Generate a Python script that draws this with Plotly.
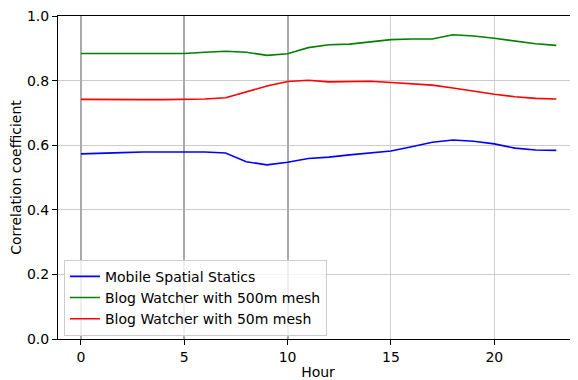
import plotly.graph_objects as go

hours = list(range(24))
mobile_spatial = [0.573, 0.576, 0.577, 0.579, 0.579, 0.580, 0.579, 0.576, 0.549, 0.539,
                  0.547, 0.559, 0.563, 0.570, 0.575, 0.582, 0.595, 0.609, 0.616, 0.612,
                  0.604, 0.591, 0.585, 0.584]
bw_500m = [0.884, 0.884, 0.884, 0.884, 0.883, 0.884, 0.888, 0.891, 0.888, 0.878,
           0.883, 0.902, 0.911, 0.913, 0.920, 0.927, 0.929, 0.929, 0.942, 0.938,
           0.931, 0.922, 0.914, 0.909]
bw_50m = [0.742, 0.741, 0.741, 0.741, 0.741, 0.741, 0.743, 0.747, 0.766, 0.783,
          0.797, 0.801, 0.796, 0.796, 0.798, 0.794, 0.789, 0.786, 0.777, 0.767,
          0.758, 0.750, 0.745, 0.743]
series_names = ["Mobile Spatial Statics", "Blog Watcher with 500m mesh", "Blog Watcher with 50m mesh"]
colors = ["#0000ff", "#008000", "#ff0000"]
x_ticks = [0, 5, 10, 15, 20]
y_ticks = [0.0, 0.2, 0.4, 0.6, 0.8, 1.0]

font = dict(family="DejaVu Sans", size=14, color="#000000")

fig = go.Figure()
for name, vals, c in zip(series_names, [mobile_spatial, bw_500m, bw_50m], colors):
    fig.add_trace(go.Scatter(x=hours, y=vals, mode="lines", name=name,
                             line=dict(color=c, width=1.6)))
# helper trace for darker grid lines on overlay axis
fig.add_trace(go.Scatter(x=hours, y=mobile_spatial, xaxis="x2", mode="lines",
                         line=dict(width=0), opacity=0, showlegend=False, hoverinfo="skip"))

xr = [-1.11, 24.05]
# page body has an 8px margin, so the figure is sized/offset to compensate
fig.update_layout(
    width=570, height=372,
    margin=dict(l=50, r=0, t=8, b=41, autoexpand=False),
    paper_bgcolor="white", plot_bgcolor="white",
    font=font,
    showlegend=True,
    legend=dict(x=0.0115, y=0.01, xanchor="left", yanchor="bottom",
                bgcolor="rgba(255,255,255,0.8)", bordercolor="#cccccc", borderwidth=1,
                font=dict(family="DejaVu Sans", size=14, color="#000000"),
                tracegroupgap=0),
    xaxis=dict(range=xr, tickvals=x_ticks, ticktext=[str(v) for v in x_ticks],
               showgrid=True, gridcolor="#d0d0d0", gridwidth=1.2, automargin=False,
               ticklabeloverflow="allow",
               zeroline=False, showline=True, linecolor="#000000", linewidth=1,
               mirror=True, ticks="outside", ticklen=5, tickcolor="#000000",
               title=dict(text="Hour", standoff=5, font=font)),
    xaxis2=dict(range=xr, overlaying="x", tickvals=[0, 5, 10], showticklabels=False,
                showgrid=True, gridcolor="#aaaaaa", gridwidth=1.6, zeroline=False,
                showline=False, ticks="", automargin=False),
    yaxis=dict(range=[0, 1], tickvals=y_ticks, ticktext=[f"{v:.1f}" for v in y_ticks],
               showgrid=True, gridcolor="#cccccc", gridwidth=1.2, automargin=False,
               ticklabeloverflow="allow",
               zeroline=False, showline=True, linecolor="#000000", linewidth=1,
               mirror=True, ticks="outside", ticklen=5, tickcolor="#000000",
               title=dict(text="Correlation coefficient", standoff=8, font=font)),
)
fig.write_html("out.html")
